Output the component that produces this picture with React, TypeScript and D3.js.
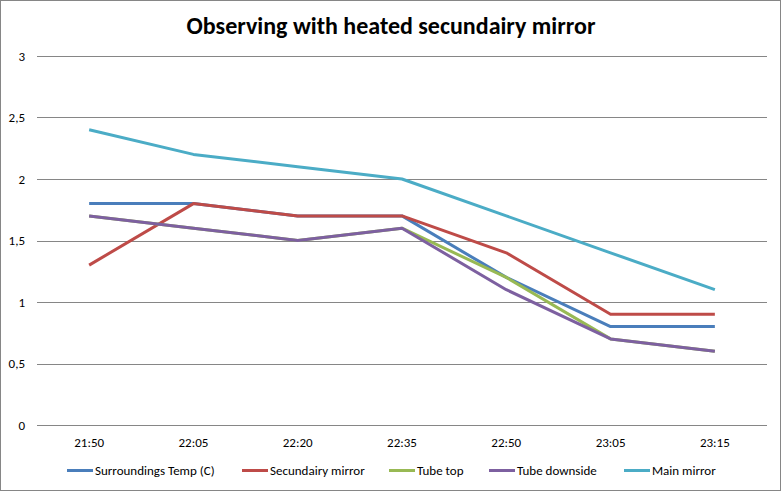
import React from "react";
import * as d3 from "d3";

const categories = ["21:50", "22:05", "22:20", "22:35", "22:50", "23:05", "23:15"];
const seriesNames = ["Surroundings Temp (C)", "Secundairy mirror", "Tube top", "Tube downside", "Main mirror"];
const surroundings = [1.8, 1.8, 1.7, 1.7, 1.2, 0.8, 0.8];
const secundairy = [1.3, 1.8, 1.7, 1.7, 1.4, 0.9, 0.9];
const tubeTop = [1.7, 1.6, 1.5, 1.6, 1.2, 0.7, 0.6];
const tubeDownside = [1.7, 1.6, 1.5, 1.6, 1.1, 0.7, 0.6];
const mainMirror = [2.4, 2.2, 2.1, 2.0, 1.7, 1.4, 1.1];
const yTicks = [0, 0.5, 1, 1.5, 2, 2.5, 3];
const colors = ["#4A7EBB", "#BE4B48", "#98B954", "#7D60A0", "#4BACC6"];

const W = 782, H = 492;
const left = 37, right = 767, top = 56, bottom = 425;
const legendX = [67, 242, 389, 489, 624];

export default function App() {
  const data = [surroundings, secundairy, tubeTop, tubeDownside, mainMirror];
  const x = d3.scaleBand<string>().domain(categories).range([left, right]);
  const y = d3.scaleLinear().domain([0, 3]).range([bottom, top]);
  const line = d3
    .line<number>()
    .x((_, i) => (x(categories[i]) as number) + x.bandwidth() / 2)
    .y((d) => y(d));
  const font = "Carlito, 'Open Sans', 'Noto Sans', sans-serif";
  const fmt = (v: number) => String(v).replace(".", ",");
  return (
    <svg width={W} height={H} style={{ position: "absolute", left: 0, top: 0 }} fontFamily={font}>
      <rect x={0} y={0} width={W} height={H} fill="#fff" />
      <rect x={0.5} y={0.5} width={W - 2} height={H - 2} fill="none" stroke="#868686" strokeWidth={1} />
      <text x={391} y={34} textAnchor="middle" fontSize={24} fontWeight="bold" fill="#000">
        Observing with heated secundairy mirror
      </text>
      {yTicks.map((t) => (
        <g key={t}>
          <line x1={left} x2={right} y1={Math.round(y(t)) + 0.5} y2={Math.round(y(t)) + 0.5} stroke="#868686" />
          <text x={25} y={y(t) + 4.5} textAnchor="end" fontSize={13} fill="#000">
            {fmt(t)}
          </text>
        </g>
      ))}
      {categories.map((c) => (
        <text key={c} x={(x(c) as number) + x.bandwidth() / 2} y={447} textAnchor="middle" fontSize={13} fill="#000">
          {c}
        </text>
      ))}
      {data.map((s, i) => (
        <path key={i} d={line(s) as string} fill="none" stroke={colors[i]} strokeWidth={3} strokeLinejoin="round" />
      ))}
      {seriesNames.map((n, i) => (
        <g key={n}>
          <line x1={legendX[i]} x2={legendX[i] + 26} y1={470.5} y2={470.5} stroke={colors[i]} strokeWidth={3} />
          <text x={legendX[i] + 28} y={475} fontSize={13} fill="#000">
            {n}
          </text>
        </g>
      ))}
    </svg>
  );
}
